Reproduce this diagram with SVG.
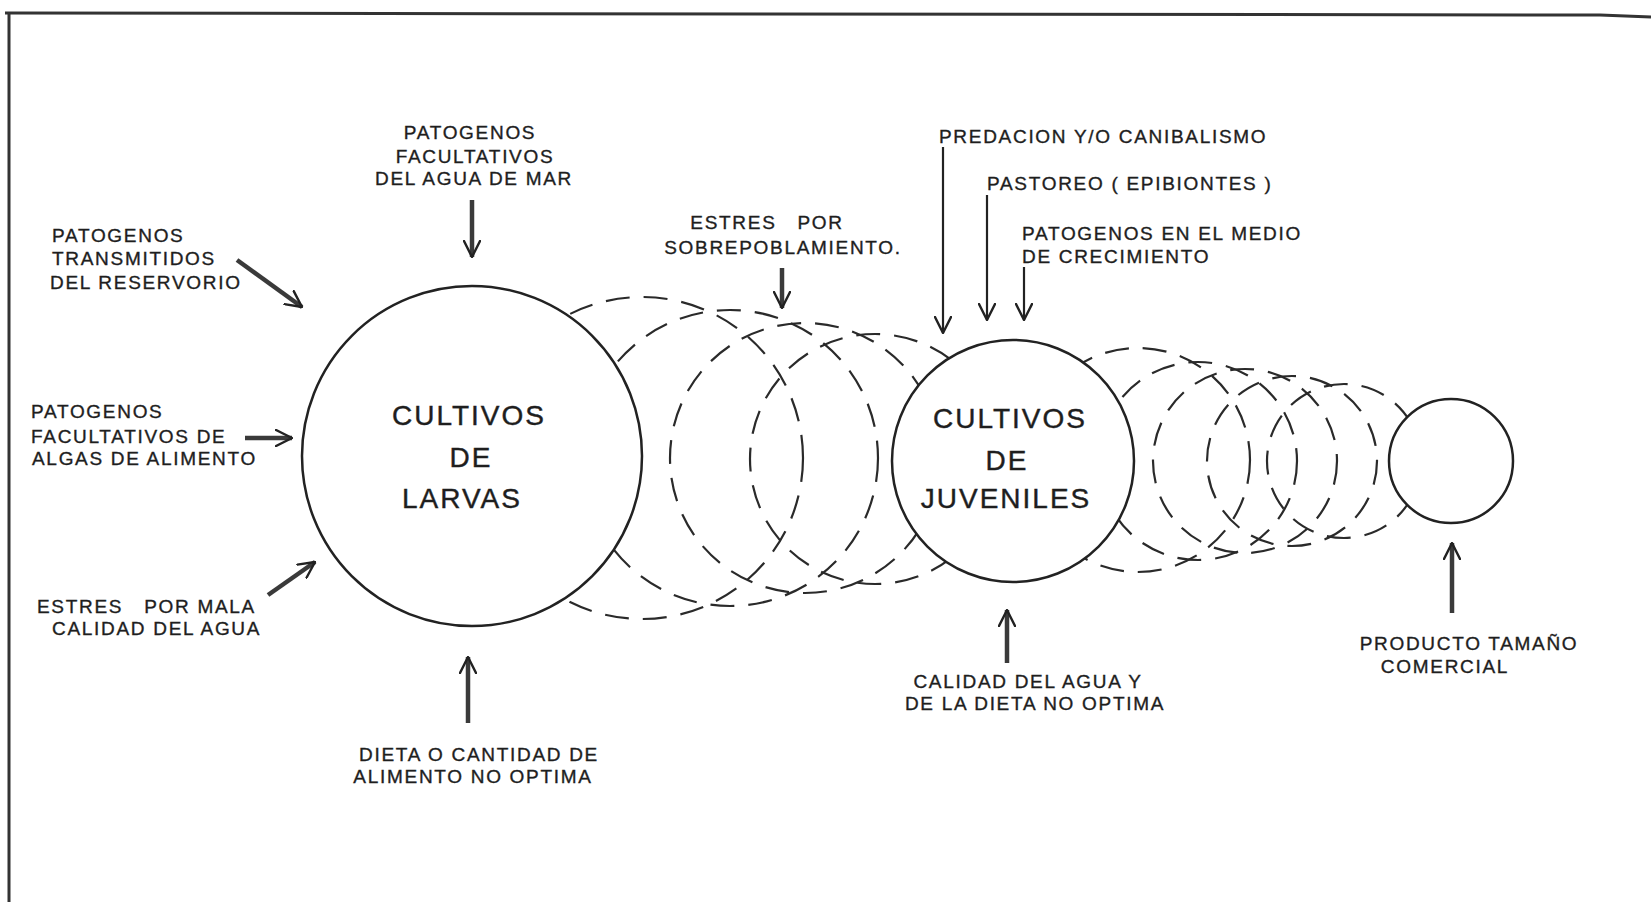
<svg xmlns="http://www.w3.org/2000/svg" width="1651" height="902" viewBox="0 0 1651 902">
  <style>
    .lbl { font-family: "Liberation Sans", Arial, sans-serif; font-size: 19px; letter-spacing: 1.7px; fill: #1e1e1e; stroke: #1e1e1e; stroke-width: 0.35; white-space: pre; }
    .big { font-family: "Liberation Sans", Arial, sans-serif; font-size: 28px; letter-spacing: 2px; fill: #1e1e1e; stroke: #1e1e1e; stroke-width: 0.4; text-anchor: middle; }
    .mid { text-anchor: middle; }
    .dash { fill: none; stroke: #2a2a2a; stroke-width: 2.2; stroke-dasharray: 24 14; }
    .solid { fill: #ffffff; stroke: #222; stroke-width: 2.5; }
    .thick { fill: none; stroke: #3a3a3a; stroke-width: 4.5; marker-end: url(#head); }
    .thin { fill: none; stroke: #222; stroke-width: 2.2; marker-end: url(#head); }
    .frame { fill: none; stroke: #333; stroke-width: 3; }
  </style>
  <defs>
    <marker id="head" viewBox="0 0 18 18" refX="17" refY="9" markerWidth="18" markerHeight="18" markerUnits="userSpaceOnUse" orient="auto">
      <path d="M1,1 L17,9 L1,17" fill="none" stroke="#222" stroke-width="2.4" stroke-linecap="round" stroke-linejoin="round"/>
    </marker>
  </defs>
  <rect x="0" y="0" width="1651" height="902" fill="#ffffff"/>

  <g id="frame">
    <path class="frame" d="M5,13 L1600,15 L1651,17"/>
    <path class="frame" d="M9,13 L9,902"/>
  </g>

  <g id="growth-stages">
    <circle class="dash" cx="642" cy="458" r="161"/>
    <circle class="dash" cx="730" cy="458" r="148"/>
    <circle class="dash" cx="805" cy="458" r="135"/>
    <circle class="dash" cx="875" cy="459" r="125"/>
    <circle class="dash" cx="1138" cy="460" r="112"/>
    <circle class="dash" cx="1198" cy="461" r="99"/>
    <circle class="dash" cx="1245" cy="461" r="92"/>
    <circle class="dash" cx="1292" cy="461" r="85"/>
    <circle class="dash" cx="1344" cy="461" r="77"/>
  </g>

  <g id="larvas">
    <circle class="solid" cx="472" cy="456" r="170"/>
    <text class="big" x="469" y="425">CULTIVOS</text>
    <text class="big" x="471" y="467">DE</text>
    <text class="big" x="462" y="508">LARVAS</text>
  </g>

  <g id="juveniles">
    <circle class="solid" cx="1013" cy="461" r="121"/>
    <text class="big" x="1010" y="428">CULTIVOS</text>
    <text class="big" x="1007" y="470">DE</text>
    <text class="big" x="1006" y="508">JUVENILES</text>
  </g>

  <g id="comercial">
    <circle class="solid" cx="1451" cy="461" r="62"/>
  </g>

  <g id="lbl-reservorio">
    <text class="lbl" x="52" y="242">PATOGENOS</text>
    <text class="lbl" x="52" y="265">TRANSMITIDOS</text>
    <text class="lbl" x="50" y="289">DEL RESERVORIO</text>
  </g>
  <g id="lbl-algas">
    <text class="lbl" x="31" y="418">PATOGENOS</text>
    <text class="lbl" x="31" y="443">FACULTATIVOS DE</text>
    <text class="lbl" x="32" y="465">ALGAS DE ALIMENTO</text>
  </g>
  <g id="lbl-mala-calidad">
    <text class="lbl" x="37" y="613" xml:space="preserve">ESTRES   POR MALA</text>
    <text class="lbl" x="52" y="635">CALIDAD DEL AGUA</text>
  </g>
  <g id="lbl-agua-mar">
    <text class="lbl mid" x="470" y="139">PATOGENOS</text>
    <text class="lbl mid" x="475" y="163">FACULTATIVOS</text>
    <text class="lbl mid" x="474" y="185">DEL AGUA DE MAR</text>
  </g>
  <g id="lbl-sobrepoblamiento">
    <text class="lbl mid" x="767" y="229" xml:space="preserve">ESTRES   POR</text>
    <text class="lbl mid" x="783" y="254">SOBREPOBLAMIENTO.</text>
  </g>
  <g id="lbl-predacion">
    <text class="lbl" x="939" y="143">PREDACION Y/O CANIBALISMO</text>
  </g>
  <g id="lbl-pastoreo">
    <text class="lbl" x="987" y="190">PASTOREO ( EPIBIONTES )</text>
  </g>
  <g id="lbl-medio">
    <text class="lbl" x="1022" y="240">PATOGENOS EN EL MEDIO</text>
    <text class="lbl" x="1022" y="263">DE CRECIMIENTO</text>
  </g>
  <g id="lbl-dieta">
    <text class="lbl mid" x="479" y="761">DIETA O CANTIDAD DE</text>
    <text class="lbl mid" x="473" y="783">ALIMENTO NO OPTIMA</text>
  </g>
  <g id="lbl-calidad-dieta">
    <text class="lbl mid" x="1028" y="688">CALIDAD DEL AGUA Y</text>
    <text class="lbl mid" x="1035" y="710">DE LA DIETA NO OPTIMA</text>
  </g>
  <g id="lbl-producto">
    <text class="lbl mid" x="1469" y="650">PRODUCTO TAMAÑO</text>
    <text class="lbl mid" x="1445" y="673">COMERCIAL</text>
  </g>

  <g id="connectors">
    <line class="thick" x1="237" y1="260" x2="302" y2="307"/>
    <line class="thick" x1="245" y1="438" x2="292" y2="438"/>
    <line class="thick" x1="268" y1="595" x2="315" y2="562"/>
    <line class="thick" x1="472" y1="200" x2="472" y2="257"/>
    <line class="thick" x1="782" y1="268" x2="782" y2="308"/>
    <line class="thin" x1="943" y1="147" x2="943" y2="333"/>
    <line class="thin" x1="987" y1="195" x2="987" y2="320"/>
    <line class="thin" x1="1024" y1="267" x2="1024" y2="320"/>
    <line class="thick" x1="468" y1="723" x2="468" y2="657"/>
    <line class="thick" x1="1007" y1="663" x2="1007" y2="610"/>
    <line class="thick" x1="1452" y1="613" x2="1452" y2="543"/>
  </g>
</svg>
